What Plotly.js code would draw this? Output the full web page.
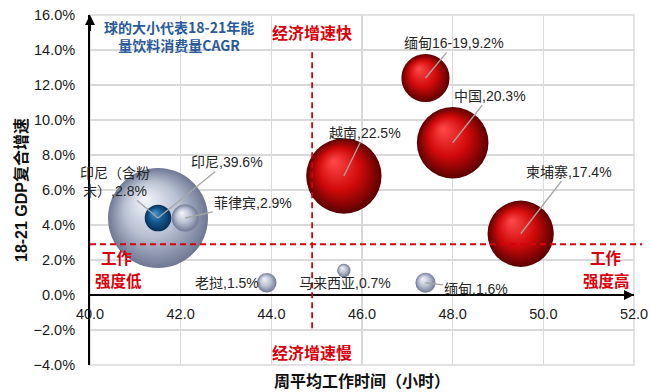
<!DOCTYPE html>
<html>
<head>
<meta charset="utf-8">
<script src="https://cdn.plot.ly/plotly-3.0.1.min.js"></script>
<style>html,body{margin:0;padding:0;background:#fff;}#chart{width:650px;height:392px;}</style>
</head>
<body>
<div id="chart"></div>
<script>
// ---------------- data ----------------
const countries = ['印尼', '印尼（含粉末）', '菲律宾', '老挝', '马来西亚', '缅甸', '越南', '中国', '缅甸16-19', '柬埔寨'];
const weeklyHours = [41.5, 41.5, 42.1, 43.9, 45.6, 47.4, 45.6, 48.0, 47.4, 49.5];
const gdpGrowth = [4.4, 4.4, 4.4, 0.7, 1.4, 0.7, 6.8, 8.7, 12.4, 3.5];
const beverageCagr = [39.6, 2.8, 2.9, 1.5, 0.7, 1.6, 22.5, 20.3, 9.2, 17.4];
const hoursSplit = 44.9;
const growthSplit = 2.9;
const xTickRange = [40, 52];
const yTickRange = [-4, 16];

// ---------------- style ----------------
const LATIN = "'Liberation Sans', Arial, 'Noto Sans CJK SC', sans-serif";
const CJK = "'Noto Sans CJK SC', 'Liberation Sans', sans-serif";
const RED = '#d9000b';
const palette = {
  gray: {edge: '#6f7893', mid: '#b8c0d2', center: '#f4f6fb'},
  blue: {edge: '#072f55', mid: '#11568f', center: '#4a94cc'},
  red:  {edge: '#5a0000', mid: '#d20a0a', center: '#ff4a4a'}
};
const pointStyle = ['gray', 'blue', 'gray', 'gray', 'gray', 'gray', 'red', 'red', 'red', 'red'];
const maxDiameter = 100;
// label placement: pixel offsets
const labelPlace = [
  {ax: 69, ay: -56, arrow: true},
  {ax: -43, ay: -36, arrow: true, wrap: 5},
  {ax: 68, ay: -15, arrow: true},
  {ax: -40, ay: 0, arrow: false},
  {ax: 1, ay: 12, arrow: false},
  {ax: 51, ay: 6, arrow: true},
  {ax: 21, ay: -43, arrow: true},
  {ax: 37, ay: -47, arrow: true},
  {ax: 29, ay: -35, arrow: true},
  {ax: 48, ay: -62, arrow: true}
];

const labelText = countries.map((c, i) => {
  let t = c + ',' + beverageCagr[i].toFixed(1) + '%';
  const w = labelPlace[i].wrap;
  if (w) t = t.slice(0, w) + '<br>' + t.slice(w);
  return t;
});

const bubbleTrace = {
  type: 'scatter',
  mode: 'markers',
  x: weeklyHours,
  y: gdpGrowth,
  hoverinfo: 'skip',
  marker: {
    size: beverageCagr,
    sizemode: 'area',
    sizeref: 2 * Math.max(...beverageCagr) / (maxDiameter * maxDiameter),
    color: pointStyle.map(s => palette[s].edge),
    gradient: {type: 'radial', color: pointStyle.map(s => palette[s].center)},
    line: {width: 0},
    opacity: 1
  },
  showlegend: false
};

const annotations = [];
labelText.forEach((t, i) => {
  const p = labelPlace[i];
  const a = {
    x: weeklyHours[i], y: gdpGrowth[i], xref: 'x', yref: 'y',
    text: t,
    font: {family: LATIN, size: 14, color: '#262626'},
    align: 'center'
  };
  if (p.arrow) {
    Object.assign(a, {showarrow: true, arrowhead: 0, arrowwidth: 1.3, arrowcolor: '#a6a6a6', ax: p.ax, ay: p.ay, standoff: 0, startstandoff: 0});
  } else {
    Object.assign(a, {showarrow: false, xshift: p.ax, yshift: -p.ay, xanchor: 'center', yanchor: 'middle'});
  }
  annotations.push(a);
});

// axis arrows
annotations.push({x: xTickRange[0], y: yTickRange[1], ax: xTickRange[0], ay: yTickRange[1] - 1, xref: 'x', yref: 'y', axref: 'x', ayref: 'y',
  text: '', showarrow: true, arrowhead: 2, arrowsize: 1, arrowwidth: 2, arrowcolor: '#000'});
annotations.push({x: xTickRange[1], y: 0, ax: xTickRange[1] - 0.6, ay: 0, xref: 'x', yref: 'y', axref: 'x', ayref: 'y',
  text: '', showarrow: true, arrowhead: 2, arrowsize: 1, arrowwidth: 2, arrowcolor: '#000'});

const redFont = {family: CJK, size: 16, color: RED};
const redFontSm = {family: CJK, size: 15.5, color: RED};
const mid = {showarrow: false, xanchor: 'center', yanchor: 'middle', align: 'center'};
annotations.push(
  Object.assign({x: hoursSplit, y: 0.951, xref: 'x', yref: 'paper', text: '<b>经济增速快</b>', font: redFont}, mid),
  Object.assign({x: hoursSplit, y: 0.037, xref: 'x', yref: 'paper', text: '<b>经济增速慢</b>', font: redFont}, mid),
  Object.assign({x: 0.0496, y: 0.3086, xref: 'paper', yref: 'paper', text: '<b>工作</b>', font: redFontSm}, mid),
  Object.assign({x: 0.0515, y: 0.2429, xref: 'paper', yref: 'paper', text: '<b>强度低</b>', font: redFontSm}, mid),
  Object.assign({x: 0.948, y: 0.3086, xref: 'paper', yref: 'paper', text: '<b>工作</b>', font: redFontSm}, mid),
  Object.assign({x: 0.950, y: 0.2429, xref: 'paper', yref: 'paper', text: '<b>强度高</b>', font: redFontSm}, mid),
  Object.assign({x: 0.1636, y: 0.94, xref: 'paper', yref: 'paper', text: '<b>球的大小代表18-21年能<br>量饮料消费量CAGR</b>',
    font: {family: CJK, size: 14, color: '#2a5a9a'}}, mid),
  Object.assign({x: 0.5, y: -0.043, xref: 'paper', yref: 'paper', text: '<b>周平均工作时间（小时）</b>',
    font: {family: CJK, size: 16, color: '#111'}}, mid)
);

const layout = {
  width: 650, height: 392,
  margin: {l: 90, r: 16, t: 15, b: 27},
  paper_bgcolor: '#fff', plot_bgcolor: '#fff',
  showlegend: false,
  xaxis: {
    range: xTickRange, dtick: 2, tick0: 40, tickformat: '.1f',
    anchor: 'free', position: (0 - yTickRange[0]) / (yTickRange[1] - yTickRange[0]),
    showline: true, linecolor: '#000', linewidth: 2,
    showgrid: true, gridcolor: '#d9d9d9', gridwidth: 1.3, zeroline: false,
    ticks: '', ticklabelstandoff: 6,
    tickfont: {family: LATIN, size: 14.5, color: '#1a1a1a'}
  },
  yaxis: {
    range: yTickRange, dtick: 2, tick0: 0, tickformat: '.1f', ticksuffix: '%',
    showline: true, linecolor: '#000', linewidth: 2,
    showgrid: true, gridcolor: '#d9d9d9', gridwidth: 1.3, zeroline: false,
    ticks: '', ticklabelstandoff: 10,
    tickfont: {family: LATIN, size: 14.5, color: '#1a1a1a'},
    title: {text: '<b>18-21 GDP复合增速</b>', font: {family: LATIN, size: 16, color: '#111'}, standoff: 2}
  },
  shapes: [
    {type: 'rect', xref: 'paper', yref: 'paper', x0: 0, x1: 1, y0: 0, y1: 1, line: {color: '#d9d9d9', width: 1.5}, layer: 'below'},
    {type: 'line', xref: 'x', yref: 'y', x0: hoursSplit, x1: hoursSplit, y0: -1.9, y1: 14.1, line: {color: RED, width: 1.8, dash: '6px,4px'}},
    {type: 'line', xref: 'paper', yref: 'y', x0: 0, x1: 1.015, y0: growthSplit, y1: growthSplit, line: {color: RED, width: 1.8, dash: '6px,4px'}}
  ],
  annotations: annotations
};

const midByCenter = {};
Object.values(palette).forEach(p => { midByCenter[p.center.toLowerCase()] = p.mid; });

function norm(c) {
  const m = /rgba?\((\d+),\s*(\d+),\s*(\d+)/.exec(c || '');
  if (!m) return (c || '').toLowerCase();
  return '#' + [m[1], m[2], m[3]].map(v => (+v).toString(16).padStart(2, '0')).join('');
}

Plotly.newPlot('chart', [bubbleTrace], layout, {displayModeBar: false, staticPlot: true}).then(gd => {
  gd.querySelectorAll('radialGradient').forEach(g => {
    g.setAttribute('fx', '0.36');
    g.setAttribute('fy', '0.3');
    const stops = g.querySelectorAll('stop');
    if (stops.length < 2) return;
    let centerStop = null;
    stops.forEach(s => { if (parseFloat(s.getAttribute('offset')) === 0) centerStop = s; });
    if (!centerStop) return;
    const cc = norm(centerStop.getAttribute('stop-color'));
    const midCol = midByCenter[cc];
    if (!midCol) return;
    const ns = document.createElementNS('http://www.w3.org/2000/svg', 'stop');
    ns.setAttribute('offset', '55%');
    ns.setAttribute('stop-color', midCol);
    centerStop.parentNode.insertBefore(ns, centerStop.nextSibling);
  });
});
</script>
</body>
</html>
